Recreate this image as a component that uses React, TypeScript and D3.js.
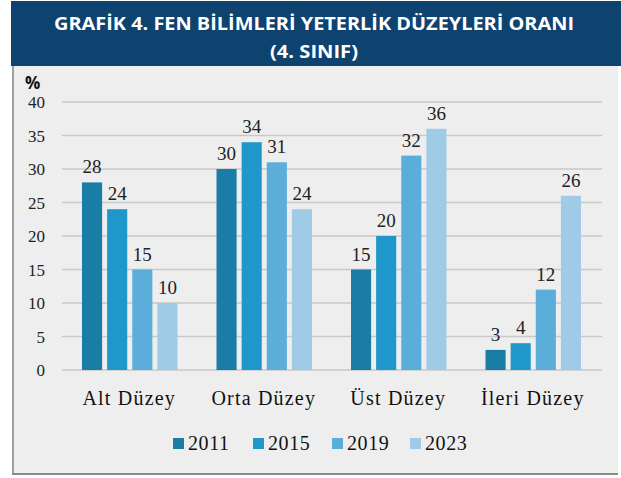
import React from "react";
import * as d3 from "d3";

const categories = ["Alt Düzey", "Orta Düzey", "Üst Düzey", "İleri Düzey"];
const years = ["2011", "2015", "2019", "2023"];
const values: number[][] = [
  [28, 30, 15, 3], // 2011
  [24, 34, 20, 4], // 2015
  [15, 31, 32, 12], // 2019
  [10, 24, 36, 26], // 2023
];
const yTicks = [0, 5, 10, 15, 20, 25, 30, 35, 40];
const colors = ["#1a7da6", "#1f97cb", "#5badda", "#9fcbe7"];

const W = 621;
const H = 478;
const serif = "'Liberation Serif', 'DejaVu Serif', serif";

export default function App() {
  const x0 = d3.scaleBand<string>().domain(categories).range([62, 600]).paddingInner(0).paddingOuter(0);
  const x1 = d3.scaleBand<string>().domain(years).range([20, x0.bandwidth() - 19]).paddingInner(0.2);
  const y = d3.scaleLinear().domain([0, 40]).range([370, 102]);

  const legendX = [173, 253, 332, 410];

  return (
    <div style={{ position: "absolute", left: 0, top: 0 }}>
      <svg width={W} height={H} style={{ display: "block" }}>
        <rect x={12} y={66} width={606} height={408} fill="#eeeeee" />
        <line x1={13} x2={13} y1={66} y2={474} stroke="#555" strokeWidth={1} />
        <line x1={12} x2={618} y1={474} y2={474} stroke="#8a8a8a" strokeWidth={2} />
        <rect x={11} y={1} width={610} height={65} fill="#0e426f" />
        <text x={314} y={30} textAnchor="middle" fill="#fff" fontFamily="'Open Sans', sans-serif" fontWeight={700} fontSize={17} textLength={520} lengthAdjust="spacingAndGlyphs">
          GRAFİK 4.  FEN BİLİMLERİ YETERLİK DÜZEYLERİ ORANI
        </text>
        <text x={314} y={58} textAnchor="middle" fill="#fff" fontFamily="'Open Sans', sans-serif" fontWeight={700} fontSize={17} textLength={88} lengthAdjust="spacingAndGlyphs">
          (4. SINIF)
        </text>

        <text x={25} y={89} fontFamily="'Open Sans', sans-serif" fontWeight={700} fontSize={17} fill="#111">%</text>

        {yTicks.map((t) => (
          <g key={t}>
            <line x1={62} x2={602} y1={y(t)} y2={y(t)} stroke="#c9c9c9" strokeWidth={1.5} />
            <text x={45} y={y(t) + 6} textAnchor="end" fontFamily={serif} fontSize={17} fill="#222">{t}</text>
          </g>
        ))}

        {categories.map((c, ci) => (
          <g key={c} transform={`translate(${x0(c)},0)`}>
            {years.map((yr, si) => {
              const v = values[si][ci];
              const bx = x1(yr)!;
              return (
                <g key={yr}>
                  <rect x={bx} y={y(v)} width={x1.bandwidth()} height={y(0) - y(v)} fill={colors[si]} />
                  <text x={bx + x1.bandwidth() / 2} y={y(v) - 9} textAnchor="middle" fontFamily={serif} fontSize={19} fill="#222">{v}</text>
                </g>
              );
            })}
            <text x={x0.bandwidth() / 2} y={405} textAnchor="middle" fontFamily={serif} fontSize={20} letterSpacing={1.2} fill="#111">{c}</text>
          </g>
        ))}

        {years.map((yr, i) => (
          <g key={yr}>
            <rect x={legendX[i]} y={438} width={11} height={11} fill={colors[i]} />
            <text x={legendX[i] + 15} y={450} fontFamily={serif} fontSize={20} letterSpacing={0.6} fill="#111">{yr}</text>
          </g>
        ))}
      </svg>
    </div>
  );
}
